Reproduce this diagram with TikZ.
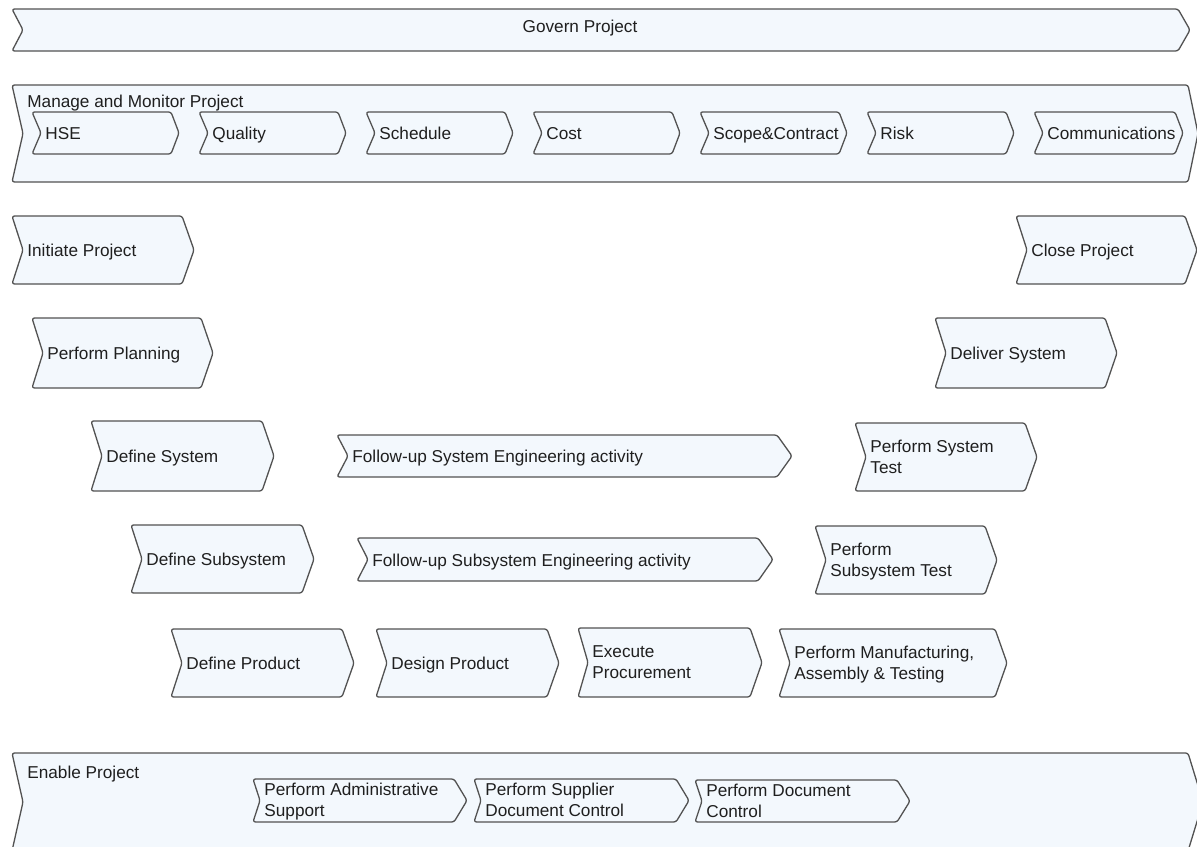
\documentclass[tikz,border=0pt]{standalone}
\usepackage{fontspec}
\setmainfont{Liberation Sans}
\begin{document}
\begin{tikzpicture}[x=0.5pt,y=-0.5pt,
  chevline/.style={draw=black!68, fill=chevfill, line width=0.65pt, rounded corners=1.2pt, line join=round},
  chevtext/.style={inner sep=0pt, align=left, font=\fontsize{8.6}{10.4}\selectfont, text=black!88,
    execute at begin node=\strut, execute at end node=\strut}]
\definecolor{chevfill}{HTML}{F3F8FD}
\useasboundingbox (0,0) rectangle (1197,846);
\fill[white] (0,0) rectangle (1197,846);

% chevron outline: #1,#2 top left; #3 tip x; #4 bottom y; #5 notch depth; #6 tip depth
\newcommand\chevshape[6]{%
  \draw[chevline] (#1,#2) -- ({#3-#6},#2) -- (#3,{(#2+#4)/2}) -- ({#3-#6},#4)
    -- (#1,#4) -- ({#1+#5},{(#2+#4)/2}) -- cycle;}
% chevron with a left-aligned label after the notch
\newcommand\chev[8]{%
  \chevshape{#2}{#3}{#4}{#5}{#6}{#7}
  \node[chevtext, anchor=west] (#1) at ({#2+#6+4},{(#3+#5)/2+2.5}) {#8};}

% swimlane containers
\chevshape{12}{9}{1190}{51}{11}{12}
\node[chevtext] (govern) at (580,28) {Govern Project};

\chevshape{12}{85}{1198}{182}{11}{10}
\node[chevtext, anchor=west] (manage) at (27,103) {Manage and Monitor Project};

\chevshape{12}{753}{1203}{851}{11}{15}
\node[chevtext, anchor=west] (enable) at (27,774) {Enable Project};

% management disciplines
\chev{hse}{32}{112}{179}{154}{9}{8}{HSE}
\chev{quality}{199}{112}{346}{154}{9}{8}{Quality}
\chev{schedule}{366}{112}{513}{154}{9}{8}{Schedule}
\chev{cost}{533}{112}{680}{154}{9}{8}{Cost}
\chev{scope}{700}{112}{847}{154}{9}{8}{Scope\&Contract}
\chev{risk}{867}{112}{1014}{154}{9}{8}{Risk}
\chev{comm}{1034}{112}{1183}{154}{9}{8}{Communications}

% left leg of the V
\chev{initiate}{12}{216}{194}{284}{11}{12}{Initiate Project}
\chev{planning}{32}{318}{213}{388}{11}{12}{Perform Planning}
\chev{defsys}{91}{421}{274}{491}{11}{12}{Define System}
\chev{defsub}{131}{525}{314}{593}{11}{12}{Define Subsystem}
\chev{defprod}{171}{629}{354}{697}{11}{12}{Define Product}

% follow-up activities
\chev{fusys}{337}{435}{792}{477}{11}{15}{Follow-up System Engineering activity}
\chev{fusub}{357}{538}{773}{581}{11}{15}{Follow-up Subsystem Engineering activity}

% bottom of the V
\chev{design}{376}{629}{559}{697}{11}{12}{Design Product}
\chev{procure}{578}{628}{762}{697}{10}{12}{Execute\\Procurement}
\chev{manuf}{779}{629}{1007}{697}{11}{12}{Perform Manufacturing,\\Assembly \& Testing}

% right leg of the V
\chev{subtest}{815}{526}{997}{594}{11}{12}{Perform\\Subsystem Test}
\chev{systest}{855}{423}{1037}{491}{11}{12}{Perform System\\Test}
\chev{deliver}{935}{318}{1117}{388}{11}{12}{Deliver System}
\chev{close}{1016}{216}{1197}{284}{11}{12}{Close Project}

% enabling processes
\chev{admin}{253}{779}{467}{822}{7}{13}{Perform Administrative\\Support}
\chev{supplier}{474}{779}{689}{822}{7}{13}{Perform Supplier\\Document Control}
\chev{doccontrol}{695}{780}{910}{822}{7}{13}{Perform Document\\Control}
\end{tikzpicture}
\end{document}
